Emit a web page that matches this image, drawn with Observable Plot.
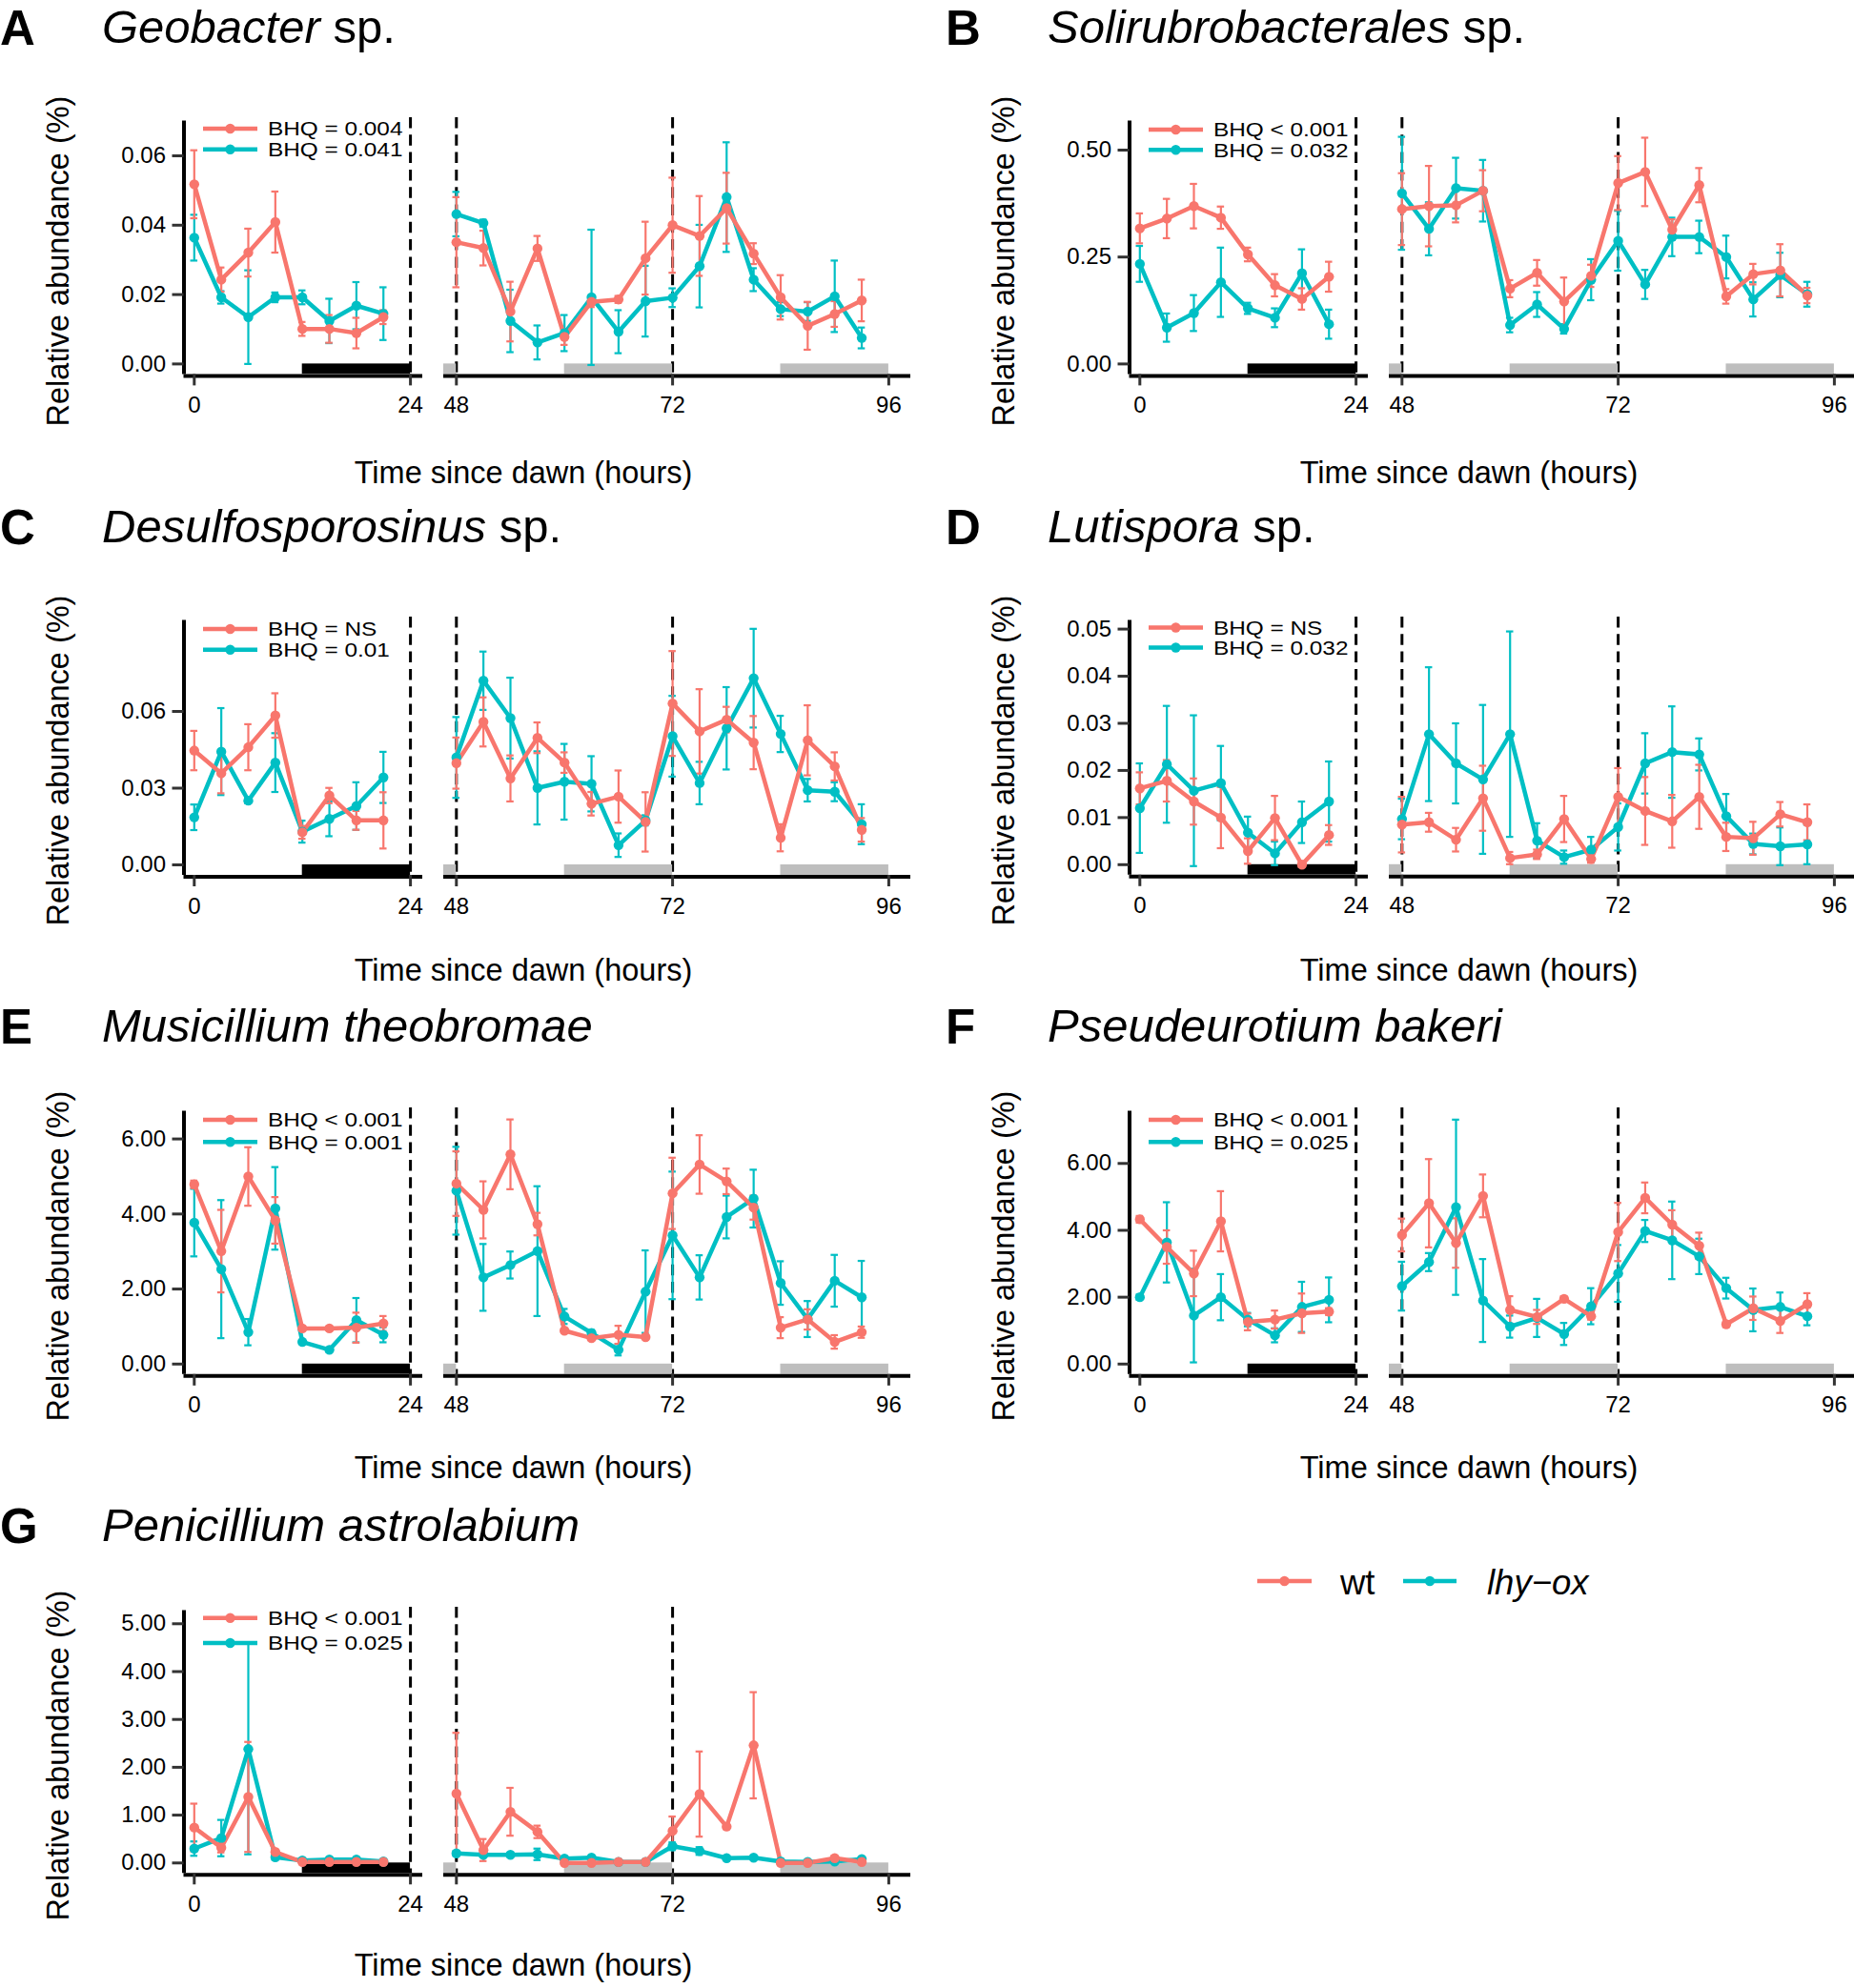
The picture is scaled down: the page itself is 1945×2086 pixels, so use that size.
<!DOCTYPE html>
<html><head><meta charset="utf-8">
<script src="https://cdn.jsdelivr.net/npm/d3@7"></script>
<script src="https://cdn.jsdelivr.net/npm/@observablehq/plot@0.6"></script>
<style>
body{margin:0;background:#fff;overflow:hidden}
#fig{position:relative;width:1945px;height:2086px;overflow:hidden;background:#fff;font-family:"Liberation Sans",Arial,Helvetica,sans-serif}
#fig svg{position:absolute;overflow:visible}
</style></head><body><div id="fig"></div>
<script>
// ---------------- DATA ----------------
const times = [0,3,6,9,12,15,18,21,48,51,54,57,60,63,66,69,72,75,78,81,84,87,90,93];
const genotypes = ["wt", "lhy\u2212ox"];
const dawnLeft = [24];
const dawnRight = [48, 72];
const nightsLeft = [[12, 24]];
const nightsRight = [[36, 48], [60, 72], [84, 96]];
const xTicksLeft = [0, 24];
const xTicksRight = [48, 72, 96];
const xLabel = "Time since dawn (hours)";
const yLabel = "Relative abundance (%)";

const A_wt    = [0.0518,0.0243,0.0321,0.0409,0.0101,0.0101,0.0089,0.0135, 0.0351,0.0334,0.0151,0.0333,0.0078,0.0179,0.0186,0.0305,0.040,0.0369,0.0449,0.0318,0.0192,0.011,0.0144,0.0183];
const A_wt_se = [0.0098,0.0035,0.0069,0.0088,0.002,0.004,0.0044,0.002, 0.013,0.005,0.0086,0.0036,0.0023,0.0015,0.001,0.0105,0.0137,0.0115,0.0102,0.003,0.0064,0.0069,0.0037,0.006];
const A_ox    = [0.0364,0.0192,0.0135,0.0192,0.0192,0.0124,0.0168,0.0145, 0.0432,0.0406,0.0124,0.0062,0.0089,0.0192,0.0093,0.0181,0.0191,0.0282,0.0481,0.0243,0.0158,0.0151,0.0195,0.0075];
const A_ox_se = [0.0066,0.0018,0.0135,0.0014,0.002,0.0064,0.0068,0.0076, 0.0064,0.001,0.009,0.0049,0.0052,0.0195,0.0062,0.0102,0.0027,0.0119,0.0158,0.0033,0.002,0.0027,0.0103,0.003];
const A_ticks = [0,0.02,0.04,0.06];

const B_wt    = [0.317,0.340,0.369,0.342,0.256,0.184,0.152,0.204, 0.362,0.369,0.371,0.405,0.176,0.213,0.146,0.206,0.423,0.449,0.314,0.418,0.158,0.210,0.219,0.160];
const B_wt_se = [0.035,0.046,0.052,0.026,0.016,0.026,0.025,0.035, 0.084,0.094,0.04,0.048,0.02,0.03,0.056,0.026,0.063,0.08,0.024,0.04,0.017,0.024,0.061,0.018];
const B_ox    = [0.234,0.085,0.119,0.191,0.130,0.108,0.212,0.093, 0.399,0.316,0.411,0.405,0.091,0.139,0.082,0.197,0.288,0.186,0.297,0.297,0.250,0.151,0.208,0.163];
const B_ox_se = [0.042,0.033,0.042,0.081,0.013,0.022,0.056,0.034, 0.132,0.062,0.071,0.072,0.017,0.029,0.011,0.048,0.07,0.034,0.045,0.038,0.05,0.04,0.052,0.029];
const B_ticks = [0,0.25,0.5];

const C_wt    = [0.0447,0.0358,0.046,0.0584,0.0127,0.0271,0.0174,0.0174, 0.0398,0.0559,0.0338,0.0497,0.04,0.0239,0.0267,0.0168,0.0631,0.0522,0.0568,0.0478,0.0106,0.0487,0.0385,0.0137];
const C_wt_se = [0.0077,0.0078,0.009,0.0087,0.0025,0.003,0.0037,0.011, 0.01,0.0096,0.009,0.006,0.004,0.0046,0.0102,0.0116,0.0205,0.0165,0.005,0.0104,0.0053,0.0137,0.0055,0.0046];
const C_ox    = [0.0186,0.0443,0.0251,0.04,0.013,0.018,0.023,0.0342, 0.042,0.072,0.0574,0.0301,0.0325,0.0317,0.0077,0.0174,0.0503,0.032,0.0534,0.073,0.0512,0.0292,0.0286,0.0159];
const C_ox_se = [0.005,0.017,0.001,0.0115,0.0043,0.0068,0.0093,0.01, 0.0158,0.0114,0.0158,0.0143,0.0148,0.0108,0.0046,0.002,0.0158,0.0083,0.0161,0.0193,0.0071,0.0044,0.0037,0.0078];
const C_ticks = [0,0.03,0.06];

const D_wt    = [0.0162,0.0178,0.0134,0.01,0.0029,0.0099,0.0,0.0063, 0.0085,0.009,0.0053,0.0141,0.0014,0.0022,0.0097,0.0012,0.0144,0.0114,0.0092,0.0144,0.0059,0.0056,0.0107,0.009];
const D_wt_se = [0.0034,0.0044,0.0049,0.0065,0.0027,0.0047,0.0005,0.0021, 0.0059,0.002,0.0025,0.0069,0.0013,0.001,0.0049,0.0008,0.0061,0.0072,0.0056,0.0068,0.003,0.0035,0.0026,0.0038];
const D_ox    = [0.012,0.0213,0.0157,0.0173,0.0068,0.0024,0.009,0.0134, 0.0097,0.0277,0.0215,0.0181,0.0277,0.0051,0.0016,0.0032,0.008,0.0215,0.0239,0.0234,0.0103,0.0044,0.0039,0.0043];
const D_ox_se = [0.0095,0.0124,0.016,0.0079,0.0034,0.0025,0.0044,0.0085, 0.0043,0.0142,0.0085,0.0158,0.0218,0.0037,0.0014,0.0027,0.005,0.0064,0.0097,0.0034,0.0047,0.0022,0.004,0.0042];
const D_ticks = [0,0.01,0.02,0.03,0.04,0.05];

const E_wt    = [4.79,3.01,5.0,3.83,0.95,0.95,0.97,1.08, 4.81,4.11,5.59,3.73,0.89,0.69,0.78,0.72,4.55,5.32,4.87,4.17,0.97,1.19,0.59,0.85];
const E_wt_se = [0.1,1.1,0.78,0.62,0.05,0.05,0.4,0.2, 0.86,0.76,0.93,0.3,0.05,0.05,0.24,0.05,0.95,0.78,0.34,0.32,0.28,0.27,0.18,0.15];
const E_ox    = [3.77,2.53,0.85,4.15,0.59,0.38,1.17,0.78, 4.62,2.31,2.64,3.01,1.27,0.83,0.38,1.93,3.43,2.31,3.92,4.41,2.16,1.2,2.22,1.78];
const E_ox_se = [0.9,1.84,0.35,1.1,0.05,0.05,0.59,0.2, 1.17,0.89,0.36,1.73,0.2,0.08,0.15,1.1,1.7,0.59,0.57,0.77,0.58,0.48,0.69,0.97];
const E_ticks = [0,2,4,6];

const F_wt    = [4.33,3.5,2.71,4.27,1.26,1.33,1.52,1.57, 3.86,4.81,3.62,5.03,1.62,1.41,1.95,1.43,3.95,4.97,4.17,3.54,1.19,1.67,1.29,1.79];
const F_wt_se = [0.1,0.5,0.68,0.9,0.25,0.27,0.59,0.1, 0.49,1.32,0.74,0.64,0.41,0.21,0.08,0.1,0.87,0.46,0.43,0.39,0.08,0.35,0.36,0.33];
const F_ox    = [2.0,3.64,1.45,2.0,1.33,0.86,1.71,1.92, 2.33,3.05,4.69,1.9,1.12,1.38,0.9,1.73,2.71,3.98,3.7,3.22,2.27,1.62,1.71,1.43];
const F_ox_se = [0.08,1.2,1.4,0.69,0.2,0.21,0.75,0.67, 0.73,0.27,2.62,1.24,0.33,0.57,0.33,0.54,0.85,0.33,1.16,0.53,0.31,0.64,0.43,0.27];
const F_ticks = [0,2,4,6];

const G_wt    = [0.74,0.32,1.38,0.23,0.02,0.02,0.02,0.02, 1.45,0.27,1.07,0.65,0.0,0.0,0.02,0.02,0.67,1.44,0.76,2.46,0.0,0.0,0.1,0.02];
const G_wt_se = [0.5,0.1,1.15,0.05,0.01,0.01,0.01,0.01, 1.27,0.23,0.5,0.13,0.01,0.01,0.01,0.01,0.3,0.89,0.05,1.11,0.01,0.01,0.05,0.01];
const G_ox    = [0.3,0.52,2.38,0.12,0.05,0.07,0.07,0.03, 0.2,0.17,0.17,0.18,0.09,0.11,0.02,0.02,0.35,0.25,0.1,0.11,0.03,0.02,0.03,0.08];
const G_ox_se = [0.15,0.38,2.2,0.05,0.02,0.02,0.02,0.02, 0.05,0.04,0.04,0.12,0.03,0.03,0.01,0.01,0.08,0.08,0.03,0.03,0.01,0.01,0.02,0.02];
const G_ticks = [0,1,2,3,4,5];

const panelLetters = ["A","B","C","D","E","F","G"];
const panelTitles = [["Geobacter"," sp."],["Solirubrobacterales"," sp."],["Desulfosporosinus"," sp."],["Lutispora"," sp."],["Musicillium theobromae",""],["Pseudeurotium bakeri",""],["Penicillium astrolabium",""]];
const panelBHQ = [["BHQ = 0.004","BHQ = 0.041"],["BHQ < 0.001","BHQ = 0.032"],["BHQ = NS","BHQ = 0.01"],["BHQ = NS","BHQ = 0.032"],["BHQ < 0.001","BHQ = 0.001"],["BHQ < 0.001","BHQ = 0.025"],["BHQ < 0.001","BHQ = 0.025"]];
const panelSeries = [
  [A_wt,A_wt_se,A_ox,A_ox_se,A_ticks],[B_wt,B_wt_se,B_ox,B_ox_se,B_ticks],
  [C_wt,C_wt_se,C_ox,C_ox_se,C_ticks],[D_wt,D_wt_se,D_ox,D_ox_se,D_ticks],
  [E_wt,E_wt_se,E_ox,E_ox_se,E_ticks],[F_wt,F_wt_se,F_ox,F_ox_se,F_ticks],
  [G_wt,G_wt_se,G_ox,G_ox_se,G_ticks]];

// ---------------- LAYOUT (pixels) ----------------
const RED = "#F8766D", TEAL = "#00BFC4";
const FONT = '"Liberation Sans", Arial, Helvetica, sans-serif';
const COLX = [0, 992];
const rowBase = [45, 569, 1093, 1617];      // title baselines
const yTitleC = [274, 798, 1318, 1842];     // y-axis title centres
const xTitleBase = [507, 1029, 1551, 2073]; // x-axis title baselines
const geo = [
  {col:0,row:0, top:123.3, zero:381.7, tv:0.06, ty:163.3, leg:[135,156.7]},
  {col:1,row:0, top:123.3, zero:381.7, tv:0.5,  ty:157.3, leg:[136,157.3]},
  {col:0,row:1, top:646.7, zero:906.7, tv:0.06, ty:745.7, leg:[660,681.7]},
  {col:1,row:1, top:646.7, zero:906.5, tv:0.05, ty:659.3, leg:[658.5,679.5]},
  {col:0,row:2, top:1161.7, zero:1430.5, tv:6, ty:1194.3, leg:[1175,1198.3]},
  {col:1,row:2, top:1161.7, zero:1430.5, tv:6, ty:1220, leg:[1175,1198.3]},
  {col:0,row:3, top:1686, zero:1954.3, tv:5, ty:1703.3, leg:[1697.7,1724]}
];
const PX = 9.45;           // pixels per hour
const X0L = 203.3, X48R = 478.3;

const fig = document.getElementById("fig");

function subplot(i, side) {
  const g = geo[i];
  const [wt, wtSe, ox, oxSe, yt] = panelSeries[i];
  const cx = COLX[g.col];
  const ppu = (g.zero - g.ty) / g.tv;
  const bottom = g.zero + 11;
  const yDom = [-(bottom - g.zero) / ppu, (g.zero - g.top) / ppu];
  const mt = 40, mb = 70;
  let left, width, ml, mr, xDom, ticks, nights, dashes, nightFill;
  if (side === "L") {
    left = cx; width = 450; ml = 192.5; mr = 7;
    xDom = [(192.5 - X0L) / PX, (443 - X0L) / PX];
    ticks = xTicksLeft; nights = nightsLeft; dashes = dawnLeft; nightFill = "#000";
  } else {
    left = cx + 455; width = 510; ml = 10; mr = 10;
    xDom = [48 + (465 - X48R) / PX, 48 + (955 - X48R) / PX];
    ticks = xTicksRight; nights = nightsRight; dashes = dawnRight; nightFill = "#BEBEBE";
  }
  const rows = times.map((t, j) => ({t, wt: wt[j], wtSe: wtSe[j], ox: ox[j], oxSe: oxSe[j]}))
    .filter(d => side === "L" ? d.t <= 24 : d.t >= 48);
  const series = [{k: "ox", se: "oxSe", c: TEAL}, {k: "wt", se: "wtSe", c: RED}];
  const marks = [];
  marks.push(Plot.ruleX(dashes, {stroke: "#000", strokeWidth: 3, strokeDasharray: "11.5,6.8"}));
  marks.push(Plot.rect(nights, {x1: d => d[0], x2: d => d[1], y1: yDom[0], y2: 0, fill: nightFill, clip: true}));
  for (const s of series) {
    marks.push(Plot.ruleX(rows, {x: "t", y1: d => d[s.k] - d[s.se], y2: d => d[s.k] + d[s.se], stroke: s.c, strokeWidth: 2.2}));
    marks.push(Plot.ruleY(rows, {y: d => d[s.k] + d[s.se], x1: d => d.t - 0.4, x2: d => d.t + 0.4, stroke: s.c, strokeWidth: 2.2}));
    marks.push(Plot.ruleY(rows, {y: d => d[s.k] - d[s.se], x1: d => d.t - 0.4, x2: d => d.t + 0.4, stroke: s.c, strokeWidth: 2.2}));
  }
  for (const s of series) marks.push(Plot.line(rows, {x: "t", y: s.k, stroke: s.c, strokeWidth: 4.5, strokeLinejoin: "round"}));
  for (const s of series) marks.push(Plot.dot(rows, {x: "t", y: s.k, r: 5.2, fill: s.c}));
  marks.push(Plot.ruleY([yDom[0]], {stroke: "#000", strokeWidth: 4, dy: 1.5}));
  if (side === "L") {
    marks.push(Plot.ruleX([xDom[0]], {stroke: "#000", strokeWidth: 4, y1: yDom[0], y2: yDom[1], insetBottom: -3.5}));
    marks.push(Plot.axisY({ticks: yt, tickSize: 12, tickPadding: 7, fontSize: 24, tickFormat: d3.format(".2f"), stroke: "#333", strokeWidth: 3, fill: "#000", label: null}));
  }
  marks.push(Plot.axisX({ticks, tickSize: 12, tickPadding: 11, fontSize: 24, tickFormat: d => String(d), stroke: "#333", strokeWidth: 3, fill: "#000", label: null}));
  const h = bottom - g.top;
  const svg = Plot.plot({
    width, height: mt + h + mb,
    marginLeft: ml, marginRight: mr, marginTop: mt, marginBottom: mb,
    x: {domain: xDom},
    y: {domain: yDom, axis: side === "L" ? undefined : null},
    style: {fontFamily: FONT, color: "#000", background: "transparent", overflow: "visible"},
    marks
  });
  svg.style.left = left + "px";
  svg.style.top = (g.top - mt) + "px";
  fig.appendChild(svg);
}

for (let i = 0; i < 7; i++) { subplot(i, "L"); subplot(i, "R"); }

// ---------------- TEXT OVERLAY ----------------
const ov = d3.select(fig).append("svg").attr("width", 1945).attr("height", 2086)
  .style("left", "0px").style("top", "0px").style("pointer-events", "none")
  .style("font-family", FONT);

for (let i = 0; i < 7; i++) {
  const g = geo[i], cx = COLX[g.col], base = rowBase[g.row];
  ov.append("text").attr("x", cx).attr("y", base + 1.5).attr("font-size", 51).attr("font-weight", "bold").text(panelLetters[i]);
  const t = ov.append("text").attr("x", cx + 107).attr("y", base).attr("font-size", 49);
  t.append("tspan").attr("font-style", "italic").text(panelTitles[i][0]);
  if (panelTitles[i][1]) t.append("tspan").text(panelTitles[i][1]);
  ov.append("text").attr("transform", `translate(${cx + 72},${yTitleC[g.row]}) rotate(-90)`)
    .attr("text-anchor", "middle").attr("font-size", 32.5).text(yLabel);
  ov.append("text").attr("x", cx + 549).attr("y", xTitleBase[g.row]).attr("text-anchor", "middle")
    .attr("font-size", 32.5).text(xLabel);
  [RED, TEAL].forEach((c, k) => {
    const y = g.leg[k];
    ov.append("line").attr("x1", cx + 213).attr("x2", cx + 270).attr("y1", y).attr("y2", y).attr("stroke", c).attr("stroke-width", 4.5);
    ov.append("circle").attr("cx", cx + 241.5).attr("cy", y).attr("r", 5.2).attr("fill", c);
    ov.append("text").attr("transform", `translate(${cx + 281},${y}) scale(1.16,1)`)
      .attr("dominant-baseline", "central").attr("font-size", 21).text(panelBHQ[i][k]);
  });
}
const gl = [{c: RED, x: 1319, w: 57, tx: 1406, it: false}, {c: TEAL, x: 1472, w: 56, tx: 1560, it: true}];
gl.forEach((d, k) => {
  ov.append("line").attr("x1", d.x).attr("x2", d.x + d.w).attr("y1", 1659).attr("y2", 1659).attr("stroke", d.c).attr("stroke-width", 4.5);
  ov.append("circle").attr("cx", d.x + d.w / 2).attr("cy", 1659).attr("r", 5.2).attr("fill", d.c);
  ov.append("text").attr("x", d.tx).attr("y", 1672.5).attr("font-size", 36.5).attr("font-style", d.it ? "italic" : "normal").text(genotypes[k]);
});
</script></body></html>
